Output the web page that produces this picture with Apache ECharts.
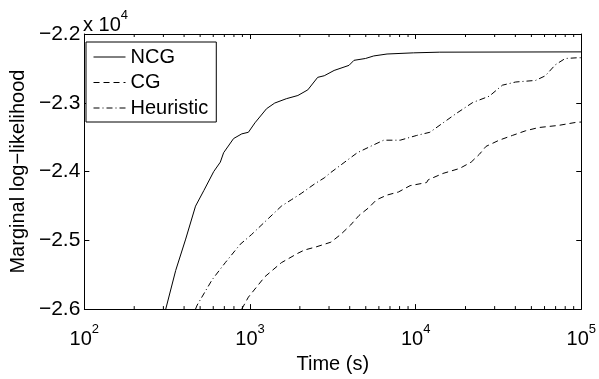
<!DOCTYPE html>
<html>
<head>
<meta charset="utf-8">
<script src="https://cdn.jsdelivr.net/npm/echarts@6/dist/echarts.min.js"></script>
<style>
html,body{margin:0;padding:0;background:#fff;}
#chart{width:599px;height:379px;}
</style>
</head>
<body>
<div id="chart"></div>
<script>
// ---- data ----
const seriesNames = ['NCG', 'CG', 'Heuristic'];

const ncgTime = [310,356,409,469,527,604,662,693,796,892,978,1071,1259,1410,1657,1946,2234,2563,2808,3221,3960,4244,4983,5585,6720,9690,13990,100000];
const ncgLL   = [-26000,-25438,-24982,-24503,-24274,-24000,-23863,-23726,-23520,-23452,-23429,-23292,-23086,-23004,-22941,-22894,-22812,-22630,-22607,-22530,-22456,-22383,-22356,-22319,-22291,-22274,-22264,-22260];

const cgTime = [892,978,1229,1547,1946,2133,2504,3078,3533,4053,4545,5215,5800,6720,7880,9260,11650,11910,14640,18430,21640,24260,26610,31950,38370,46140,55400,72980,93870,100000];
const cgLL   = [-26000,-25826,-25530,-25325,-25188,-25141,-25096,-25027,-24914,-24777,-24640,-24525,-24411,-24342,-24297,-24205,-24160,-24120,-24027,-23955,-23863,-23749,-23634,-23544,-23475,-23407,-23360,-23329,-23283,-23280];

const heurTime = [469,480,590,709,872,1024,1288,1547,1775,2037,2447,2808,3078,3697,4446,5339,6412,8066,10150,12190,14640,17610,22130,27840,33430,40200,52970,60760,69710,80000,93870,100000];
const heurLL   = [-26000,-25941,-25575,-25325,-25059,-24914,-24685,-24503,-24411,-24319,-24182,-24092,-24013,-23870,-23726,-23634,-23544,-23544,-23475,-23429,-23292,-23155,-22996,-22904,-22744,-22698,-22675,-22607,-22448,-22356,-22346,-22345];

// axis ticks
const xMin = 100, xMax = 100000;
const yMin = -26000, yMax = -22000, yStep = 1000;
const xMinorTicks = [200,300,400,500,600,700,800,900,2000,3000,4000,5000,6000,7000,8000,9000,20000,30000,40000,50000,60000,70000,80000,90000];
const yScaleExp = 4;

// ---- chart ----
const FONT = 'Liberation Sans, Arial, Helvetica, sans-serif';
const pair = (xs, ys) => xs.map((x, i) => [x, ys[i]]);
const chart = echarts.init(document.getElementById('chart'), null, {renderer: 'canvas'});

const axisCommon = {
  axisLine: {show: true, onZero: false, lineStyle: {color: '#000', width: 1}},
  splitLine: {show: false},
};

const option = {
  backgroundColor: '#fff',
  animation: false,
  textStyle: {fontFamily: FONT, color: '#000'},
  grid: {left: 81, right: 16, top: 34, bottom: 53, containLabel: false},
  legend: {
    data: seriesNames,
    orient: 'vertical',
    left: 86, top: 42,
    align: 'left',
    itemWidth: 32, itemHeight: 20, itemGap: 5.5,
    padding: [5, 8, 4, 7],
    borderColor: '#000', borderWidth: 1, borderRadius: 0,
    backgroundColor: '#fff',
    itemStyle: {opacity: 0},
    lineStyle: {width: 1, color: '#000'},
    textStyle: {fontFamily: FONT, fontSize: 20, color: '#000'},
    selectedMode: false
  },
  xAxis: [
    Object.assign({}, axisCommon, {
      type: 'log', logBase: 10, min: xMin, max: xMax, position: 'bottom',
      name: 'Time (s)', nameLocation: 'middle', nameGap: 35,
      nameTextStyle: {fontFamily: FONT, fontSize: 20, color: '#000'},
      axisTick: {show: true, inside: true, length: 5, lineStyle: {color: '#000'}},
      axisLabel: {
        margin: 14, color: '#000', fontFamily: FONT,
        formatter: v => '{b|10}{s|' + Math.round(Math.log10(v)) + '}',
        rich: {
          b: {fontSize: 20, fontFamily: FONT, color: '#000', verticalAlign: 'bottom', lineHeight: 26},
          s: {fontSize: 13, fontFamily: FONT, color: '#000', verticalAlign: 'top', lineHeight: 26, padding: [0, 0, 12, 0]}
        }
      }
    }),
    Object.assign({}, axisCommon, {
      type: 'log', logBase: 10, min: xMin, max: xMax, position: 'top',
      axisTick: {show: true, inside: true, length: 5, lineStyle: {color: '#000'}},
      axisLabel: {show: false}
    })
  ],
  yAxis: [
    Object.assign({}, axisCommon, {
      type: 'value', min: yMin, max: yMax, interval: yStep, position: 'left',
      name: 'Marginal log\u2212likelihood', nameLocation: 'middle', nameGap: 54,
      nameTextStyle: {fontFamily: FONT, fontSize: 20, color: '#000'},
      axisTick: {show: true, inside: true, length: 5, lineStyle: {color: '#000'}},
      axisLabel: {
        margin: 4, fontSize: 21, color: '#000', fontFamily: FONT,
        formatter: v => (v / Math.pow(10, yScaleExp)).toFixed(1).replace('-', '\u2212')
      }
    }),
    Object.assign({}, axisCommon, {
      type: 'value', min: yMin, max: yMax, interval: yStep, position: 'right',
      axisTick: {show: true, inside: true, length: 5, lineStyle: {color: '#000'}},
      axisLabel: {show: false}
    })
  ],
  graphic: [{
    type: 'text', left: 83, top: 9,
    style: {
      text: '{b|x 10}{s|' + yScaleExp + '}',
      rich: {
        b: {fontSize: 20, fontFamily: FONT, fill: '#000', verticalAlign: 'bottom', lineHeight: 26},
        s: {fontSize: 13, fontFamily: FONT, fill: '#000', verticalAlign: 'top', lineHeight: 26, padding: [0, 0, 12, 0]}
      }
    }
  }],
  series: [
    {
      name: 'NCG', type: 'line', data: pair(ncgTime, ncgLL), symbol: 'none',
      lineStyle: {color: '#000', width: 1, type: 'solid'}, itemStyle: {color: '#000'}, z: 3
    },
    {
      name: 'CG', type: 'line', data: pair(cgTime, cgLL), symbol: 'none',
      lineStyle: {color: '#000', width: 1, type: [6, 4]}, itemStyle: {color: '#000'}, z: 3
    },
    {
      name: 'Heuristic', type: 'line', data: pair(heurTime, heurLL), symbol: 'none',
      lineStyle: {color: '#000', width: 1, type: [6, 3, 1, 3]}, itemStyle: {color: '#000'}, z: 3
    },
    {
      name: 'minorTicks', type: 'custom', silent: true, clip: false, z: 4,
      data: xMinorTicks.map(v => [v]),
      encode: {x: 0},
      renderItem: (params, api) => {
        const v = api.value(0);
        const b = api.coord([v, yMin]);
        const t = api.coord([v, yMax]);
        const st = {stroke: '#000', lineWidth: 1};
        return {
          type: 'group',
          children: [
            {type: 'line', shape: {x1: b[0], y1: b[1], x2: b[0], y2: b[1] - 3}, style: st},
            {type: 'line', shape: {x1: t[0], y1: t[1], x2: t[0], y2: t[1] + 3}, style: st}
          ]
        };
      }
    }
  ]
};
chart.setOption(option);
</script>
</body>
</html>
